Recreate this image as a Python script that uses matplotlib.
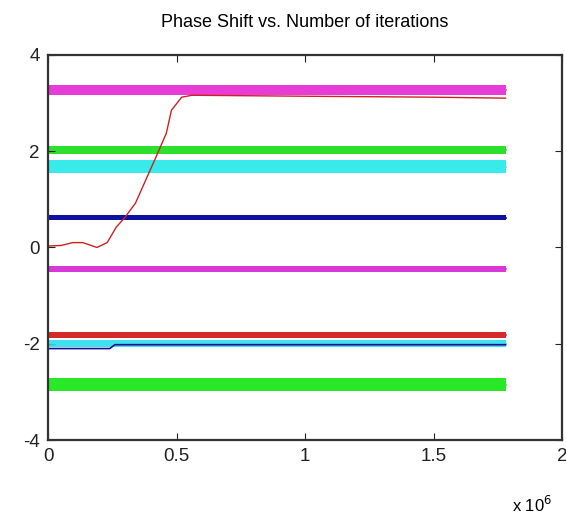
import matplotlib
matplotlib.use("Agg")
import matplotlib.pyplot as plt
import numpy as np

plt.rcParams['font.family'] = ['Liberation Sans', 'DejaVu Sans']

# flat noisy traces: level, half-width of the noise band, colour
x_end = 1.78e6
levels = [3.27, 2.02, 1.68, 0.62, -0.45, -1.82, -2.0, -2.85]
spread = [0.10, 0.08, 0.13, 0.06, 0.06, 0.07, 0.07, 0.13]
colors = ['#e83cd8', '#2ee02e', '#38eaea', '#1010a0', '#d838d8', '#d42a2a', '#40e0f0', '#28e828']

# red trace that converges to pi
red_x = [0, 0.05e6, 0.096e6, 0.135e6, 0.19e6, 0.23e6, 0.265e6, 0.30e6, 0.34e6, 0.38e6,
         0.42e6, 0.46e6, 0.48e6, 0.52e6, 0.56e6, 1.0e6, 1.5e6, 1.78e6]
red_y = [0.03, 0.04, 0.10, 0.10, 0.0, 0.10, 0.42, 0.63, 0.92, 1.40,
         1.88, 2.37, 2.85, 3.12, 3.16, 3.14, 3.12, 3.10]

# dark blue start segment on the lower cyan trace
blue_x = [0, 0.24e6, 0.26e6, 1.78e6]
blue_y = [-2.1, -2.1, -2.02, -2.02]

fig = plt.figure(figsize=(5.66, 5.22), dpi=100)
ax = fig.add_axes([0.085, 0.157, 0.908, 0.738])

xs = np.array([0, x_end])
for lev, sp, c in zip(levels, spread, colors):
    ax.fill_between(xs, lev - sp, lev + sp, color=c, lw=0)
    ax.plot(xs, [lev, lev], color=c, lw=1.2)

ax.plot(blue_x, blue_y, color='#10108c', lw=1.2)
ax.plot(red_x, red_y, color='#d02020', lw=1.0)

ax.set_xlim(0, 2e6)
ax.set_ylim(-4, 4)
ax.set_xticks([0, 0.5e6, 1e6, 1.5e6, 2e6])
ax.set_xticklabels(['0', '0.5', '1', '1.5', '2'])
ax.set_yticks([-4, -2, 0, 2, 4])
ax.set_yticklabels(['-4', '-2', '0', '2', '4'])
ax.tick_params(direction='in', top=True, right=True, length=5, width=0.8,
               labelsize=13.5, colors='#222222', pad=6)
for s in ax.spines.values():
    s.set_linewidth(1.6)
    s.set_color('#333333')

ax.set_title('Phase Shift vs. Number of iterations', fontsize=13, pad=20)
fig.text(0.905, 0.02, 'x 10$^{6}$', fontsize=12)

fig.savefig('out.png', dpi=100)
